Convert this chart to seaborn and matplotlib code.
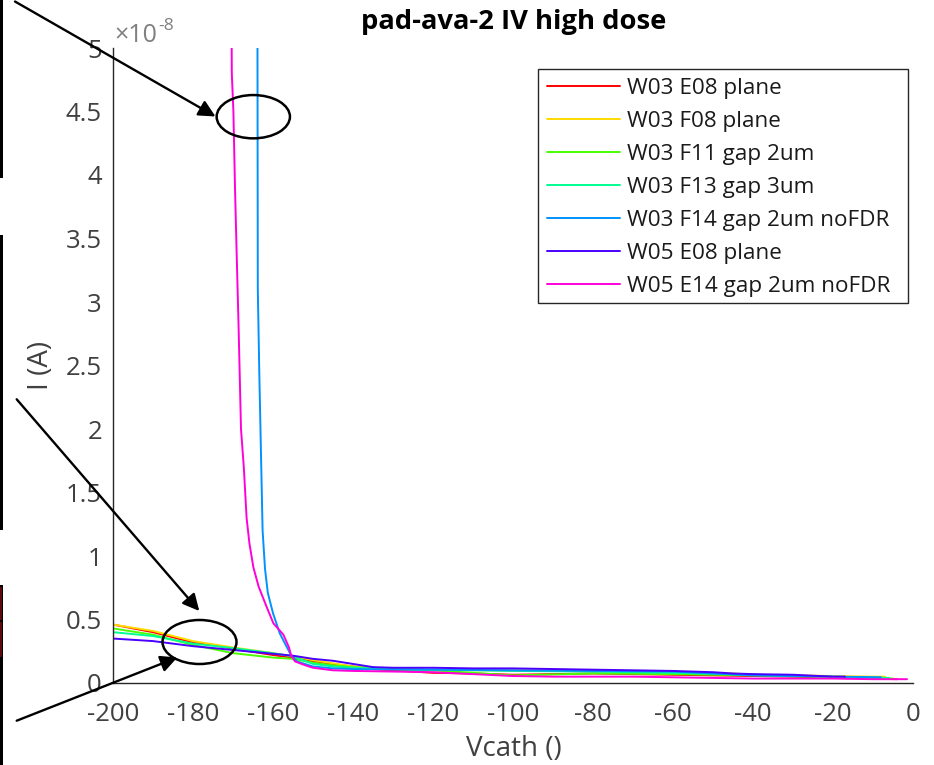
import matplotlib
matplotlib.use("Agg")
import matplotlib.pyplot as plt
from matplotlib.patches import Ellipse, FancyArrowPatch, Rectangle
import numpy as np
import pandas as pd
import seaborn as sns

# ---- measurement series: cathode voltage (V) and current (units of 1e-8 A) ----
series_names = [
    "W03 E08 plane",
    "W03 F08 plane",
    "W03 F11 gap 2um",
    "W03 F13 gap 3um",
    "W03 F14 gap 2um noFDR",
    "W05 E08 plane",
    "W05 E14 gap 2um noFDR",
]

v_w03_e08 = [-200, -195, -190, -185, -180, -175, -170, -165, -160, -155, -150, -145, -140,
             -135, -130, -120, -110, -100, -90, -80, -70, -60, -50, -40, -30, -20, -10, -4]
i_w03_e08 = [0.46, 0.43, 0.40, 0.36, 0.32, 0.30, 0.27, 0.245, 0.22, 0.20, 0.17, 0.15, 0.13,
             0.11, 0.10, 0.08, 0.075, 0.065, 0.07, 0.075, 0.07, 0.065, 0.06, 0.055, 0.05, 0.04, 0.035, 0.03]

v_w03_f08 = [-200, -190, -180, -170, -160, -155, -150, -145, -140, -130, -120, -110, -100,
             -80, -60, -45, -40, -30, -20, -10, -7]
i_w03_f08 = [0.46, 0.41, 0.33, 0.28, 0.235, 0.21, 0.18, 0.155, 0.13, 0.11, 0.10, 0.10, 0.10,
             0.095, 0.085, 0.075, 0.065, 0.06, 0.055, 0.05, 0.05]

v_w03_f11 = [-200, -190, -180, -170, -160, -155, -150, -145, -140, -130, -120, -100,
             -80, -60, -40, -20, -5]
i_w03_f11 = [0.43, 0.38, 0.30, 0.235, 0.20, 0.19, 0.16, 0.14, 0.125, 0.11, 0.10, 0.06,
             0.075, 0.07, 0.06, 0.045, 0.035]

v_w03_f13 = [-200, -190, -180, -170, -160, -155, -150, -145, -140, -130, -120, -100,
             -80, -60, -40, -20, -6]
i_w03_f13 = [0.40, 0.37, 0.31, 0.275, 0.235, 0.21, 0.15, 0.13, 0.12, 0.11, 0.105, 0.095,
             0.09, 0.08, 0.065, 0.05, 0.04]

v_w03_f14 = [-163.9, -163.8, -163.4, -163.0, -162.6, -162.0, -161.3, -160.0, -158.3, -156.5,
             -155.5, -154, -150, -145, -140, -130, -120, -100, -80, -60, -40, -20, -8]
i_w03_f14 = [5.5, 3.1, 2.4, 1.8, 1.2, 0.9, 0.71, 0.55, 0.39, 0.28,
             0.22, 0.17, 0.13, 0.115, 0.11, 0.105, 0.105, 0.10, 0.095, 0.09, 0.06, 0.05, 0.045]

v_w05_e08 = [-200, -190, -180, -170, -160, -155, -150, -145, -140, -135, -130, -120, -110,
             -100, -90, -80, -70, -60, -50, -45, -40, -30, -20, -17]
i_w05_e08 = [0.35, 0.33, 0.29, 0.26, 0.23, 0.215, 0.19, 0.175, 0.15, 0.125, 0.12, 0.12, 0.115,
             0.115, 0.11, 0.105, 0.10, 0.095, 0.085, 0.075, 0.07, 0.065, 0.05, 0.05]

v_w05_e14 = [-170.4, -170.3, -169.9, -169.5, -169.1, -168.6, -168.3, -168.0, -167.3, -166.6,
             -165.9, -164.9, -163.6, -161.6, -159.9, -157.4, -156.0, -155.5, -154.5, -152,
             -150, -145, -140, -130, -120, -110, -100, -90, -80, -70, -60, -50, -40, -30,
             -20, -10, -1.5]
i_w05_e14 = [5.5, 4.8, 4.5, 3.9, 3.4, 2.8, 2.4, 2.0, 1.7, 1.3,
             1.1, 0.91, 0.76, 0.60, 0.47, 0.38, 0.28, 0.22, 0.17, 0.14,
             0.12, 0.10, 0.095, 0.09, 0.085, 0.07, 0.055, 0.05, 0.05, 0.05, 0.045, 0.04, 0.035,
             0.035, 0.035, 0.03, 0.03]

x_ticks = list(range(-200, 1, 20))
y_ticks = [0, 0.5, 1, 1.5, 2, 2.5, 3, 3.5, 4, 4.5, 5]

# hsv(7) colour order
line_colors = ["#ff0000", "#ffdb00", "#49ff00", "#00ff92", "#0092ff", "#4900ff", "#ff00db"]

volts = [v_w03_e08, v_w03_f08, v_w03_f11, v_w03_f13, v_w03_f14, v_w05_e08, v_w05_e14]
currents = [i_w03_e08, i_w03_f08, i_w03_f11, i_w03_f13, i_w03_f14, i_w05_e08, i_w05_e14]

frames = []
for name, v, i in zip(series_names, volts, currents):
    frames.append(pd.DataFrame({"Vcath": v, "I": i, "device": name}))
df = pd.concat(frames, ignore_index=True)

# ---- styling ----
sns.set_style("white")
plt.rcParams["font.family"] = ["Open Sans", "DejaVu Sans"]
axis_grey = "#404040"

W, H = 934, 765
fig = plt.figure(figsize=(W / 100, H / 100), dpi=100)
ax = fig.add_axes([113 / W, 1 - 683 / H, 800 / W, 635 / H])

sns.lineplot(data=df, x="Vcath", y="I", hue="device", hue_order=series_names,
             palette=line_colors, estimator=None, sort=False,
             linewidth=1.4, legend=False, ax=ax)

ax.set_xlim(-200, 0)
ax.set_ylim(0, 5)
ax.set_xticks(x_ticks)
ax.set_yticks(y_ticks)
ax.set_xticklabels([f"{t:g}" for t in x_ticks])
ax.set_yticklabels([f"{t:g}" for t in y_ticks])
ax.set_xlabel("")
ax.set_ylabel("")

for side in ("top", "right"):
    ax.spines[side].set_visible(False)
for side in ("left", "bottom"):
    ax.spines[side].set_color("#262626")
    ax.spines[side].set_linewidth(1.0)
ax.tick_params(axis="both", direction="in", length=5, width=1.0, color="#262626",
               labelsize=18.5, labelcolor=axis_grey)
ax.tick_params(axis="x", pad=14)
ax.tick_params(axis="y", pad=8)


def fx(px):
    return px / W


def fy(py):
    return 1 - py / H


# axis titles and exponent
fig.text(514 / W, 1 - 22 / H, "pad-ava-2 IV high dose", ha="center", va="center",
         fontsize=19.7, fontweight="bold", color="black")
fig.text(514 / W, 1 - 749 / H, "Vcath ()", ha="center", va="center",
         fontsize=20, color=axis_grey)
fig.text(41 / W, 1 - 365 / H, "I (A)", ha="center", va="center", rotation=90,
         fontsize=20, color=axis_grey)
fig.text(114 / W, 1 - 42 / H, "\u00d710", ha="left", va="baseline", fontsize=18, color="#808080")
fig.text(158 / W, 1 - 30 / H, "-8", ha="left", va="baseline", fontsize=12.5, color="#808080")

# legend with a plain rectangular box
fig.add_artist(Rectangle((fx(538), fy(303)), 370 / W, 234 / H, transform=fig.transFigure,
                         facecolor="white", edgecolor="#262626", linewidth=1.0, zorder=4))
handles = ax.get_lines()[:len(series_names)]
leg = ax.legend(handles, series_names, loc="upper left",
                bbox_to_anchor=(fx(538), fy(69)), bbox_transform=fig.transFigure,
                borderaxespad=0, fontsize=16.2, frameon=False,
                handlelength=3.25, handletextpad=0.3, labelspacing=0.53, borderpad=0.4)
leg.set_zorder(5)
leg.remove()
fig.add_artist(leg)
for txt in leg.get_texts():
    txt.set_color("#1a1a1a")

# callout ellipses and arrows
for cx, cy, w, h in [(253.3, 116.7, 73.3, 43.3), (199.5, 642.0, 74.0, 44.0)]:
    fig.add_artist(Ellipse((fx(cx), fy(cy)), w / W, h / H, transform=fig.transFigure,
                           fill=False, edgecolor="black", linewidth=1.8))

for (x0, y0), (x1, y1) in [((15, 1.5), (215.5, 116.5)),
                           ((16.7, 399.3), (199.3, 611.0)),
                           ((16.7, 720.7), (177.3, 657.5))]:
    fig.add_artist(FancyArrowPatch((fx(x0), fy(y0)), (fx(x1), fy(y1)),
                                   transform=fig.transFigure, arrowstyle="-|>",
                                   mutation_scale=25, linewidth=1.7, color="black",
                                   shrinkA=0, shrinkB=0))

# slide edge strips on the left border
for y0, y1, col in [(0, 178, "black"), (235, 530, "black"), (585, 765, "black")]:
    fig.add_artist(Rectangle((0, fy(y1)), 2.5 / W, (y1 - y0) / H, transform=fig.transFigure,
                             facecolor=col, edgecolor="none"))
for y0, y1 in [(587, 620), (622, 657)]:
    fig.add_artist(Rectangle((0, fy(y1)), 2.0 / W, (y1 - y0) / H, transform=fig.transFigure,
                             facecolor="#5c0a0a", edgecolor="none"))

fig.savefig("out.png", dpi=100)
